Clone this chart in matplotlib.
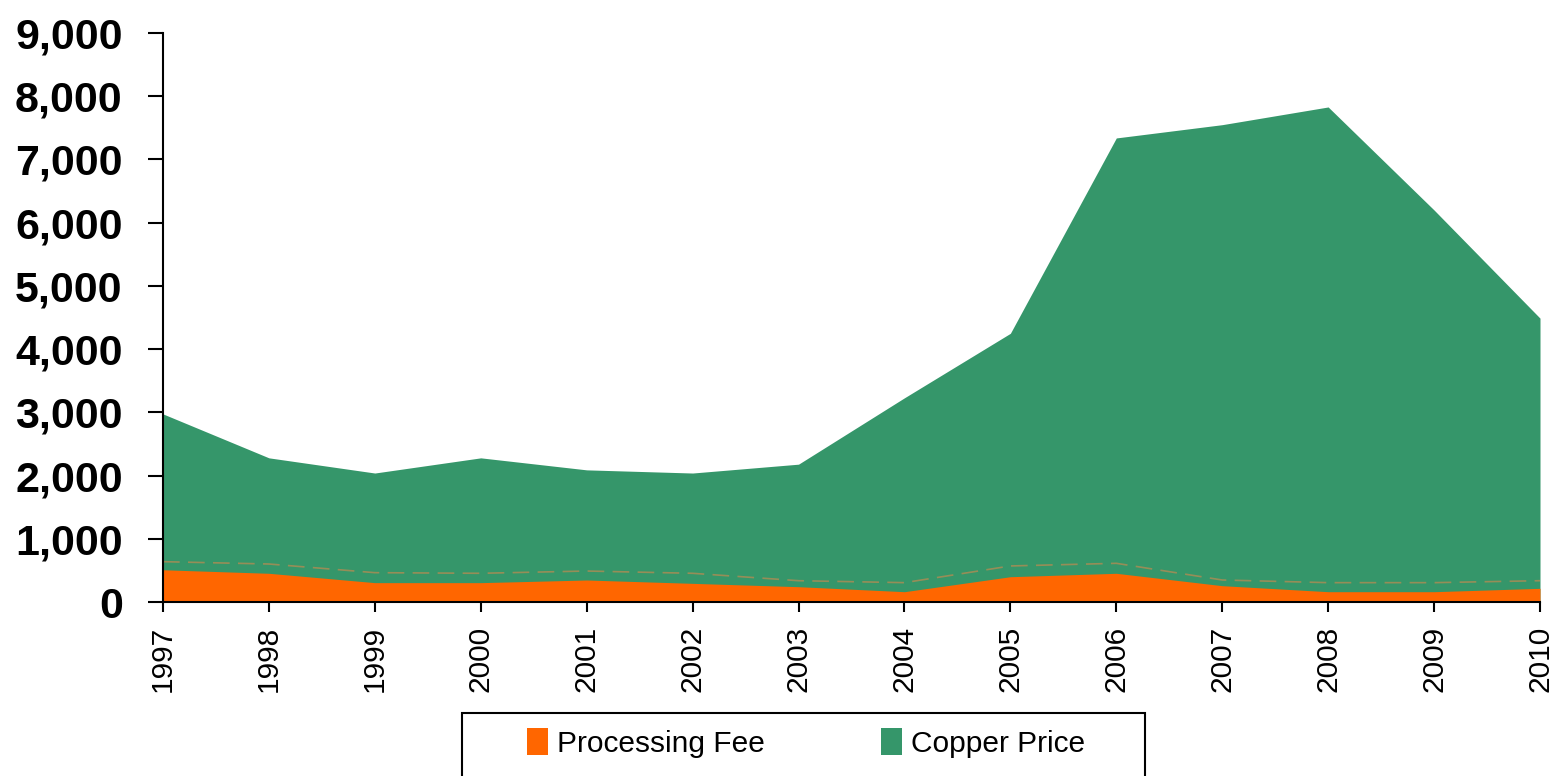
import matplotlib.pyplot as plt
from matplotlib.patches import Patch, Rectangle
from matplotlib.ticker import FuncFormatter

years = [1997, 1998, 1999, 2000, 2001, 2002, 2003, 2004, 2005, 2006, 2007, 2008, 2009, 2010]
copper_price = [2975, 2280, 2040, 2280, 2090, 2040, 2180, 3230, 4250, 7340, 7550, 7830, 6200, 4490]
processing_fee = [510, 454, 306, 306, 348, 295, 242, 163, 400, 454, 258, 163, 163, 216]
fee_outline = [638, 601, 464, 454, 490, 454, 337, 306, 570, 612, 348, 306, 306, 337]

GREEN = "#35966A"
ORANGE = "#FF6600"

plt.rcParams['font.family'] = ['Liberation Sans', 'DejaVu Sans']

fig = plt.figure(figsize=(15.59, 7.76), dpi=100)
ax = fig.add_axes([163 / 1559, 1 - 602 / 776, (1540 - 163) / 1559, (602 - 33) / 776])

ax.fill_between(years, 0, copper_price, color=GREEN, linewidth=0)
ax.fill_between(years, 0, processing_fee, color=ORANGE, linewidth=0)
ax.plot(years, fee_outline, color="#C08A50", linewidth=1.2, alpha=0.7, dashes=(10, 5))

ax.set_xlim(1997, 2010)
ax.set_ylim(0, 9000)
ax.set_xticks(years)
ax.set_xticklabels([str(y) for y in years], rotation=90, fontsize=21.5)
ax.set_yticks(range(0, 9001, 1000))
ax.yaxis.set_major_formatter(FuncFormatter(lambda v, p: f"{int(v):,}"))
for lbl in ax.get_yticklabels():
    lbl.set_fontsize(31)
    lbl.set_fontweight("bold")

ax.tick_params(axis="y", length=11, width=1.5, pad=18)
ax.tick_params(axis="x", length=7, width=1.5, pad=10)
for side in ("top", "right"):
    ax.spines[side].set_visible(False)
for side in ("left", "bottom"):
    ax.spines[side].set_linewidth(1.5)

# legend frame runs off the bottom of the figure
fig.patches.append(Rectangle((462 / 1559, -0.05), (1145 - 462) / 1559, 0.05 + 1 - 713 / 776,
                             transform=fig.transFigure, fill=False, edgecolor="black", linewidth=1.5))
handles = [Patch(facecolor=ORANGE, label="Processing Fee"),
           Patch(facecolor=GREEN, label="Copper Price")]
fig.legend(handles=handles, loc="center left", bbox_to_anchor=(527 / 1559, 1 - 743 / 776),
           ncol=2, frameon=False, fontsize=21.5, borderpad=0, borderaxespad=0,
           handlelength=0.7, handleheight=1.0, handletextpad=0.3, columnspacing=3.9)

fig.savefig("out.png", dpi=100)
